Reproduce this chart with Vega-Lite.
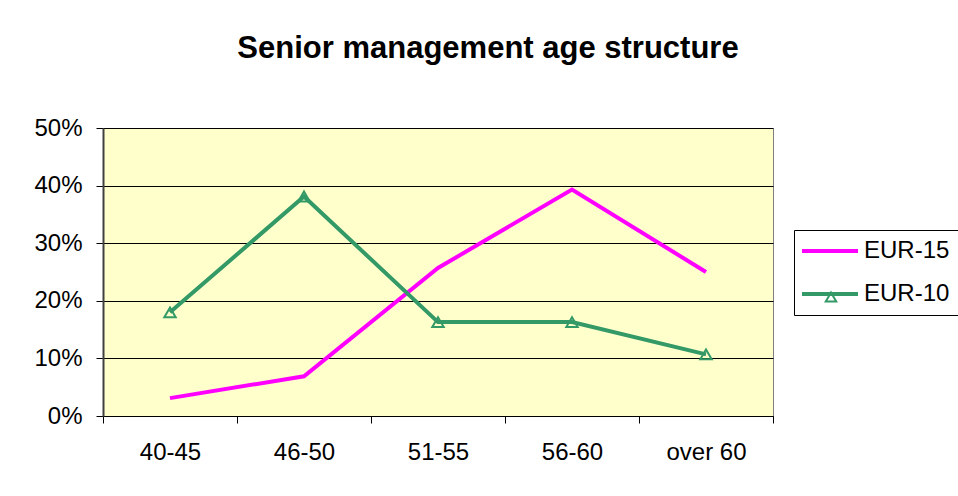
{
  "$schema": "https://vega.github.io/schema/vega-lite/v6.json",
  "width": 670,
  "height": 288,
  "autosize": {"type": "none"},
  "padding": {"left": 103, "top": 128, "right": 185, "bottom": 80},
  "background": "white",
  "title": {"text": "Senior management age structure", "fontSize": 31, "font": "Liberation Sans", "fontWeight": "bold", "color": "black", "anchor": "middle", "dx": 50, "offset": 27, "baseline": "alphabetic"},
  "datasets": {
    "d": [
      {"age": "40-45", "series": "EUR-15", "share": 0.031},
      {"age": "46-50", "series": "EUR-15", "share": 0.069},
      {"age": "51-55", "series": "EUR-15", "share": 0.257},
      {"age": "56-60", "series": "EUR-15", "share": 0.393},
      {"age": "over 60", "series": "EUR-15", "share": 0.250},
      {"age": "40-45", "series": "EUR-10", "share": 0.180},
      {"age": "46-50", "series": "EUR-10", "share": 0.381},
      {"age": "51-55", "series": "EUR-10", "share": 0.163},
      {"age": "56-60", "series": "EUR-10", "share": 0.163},
      {"age": "over 60", "series": "EUR-10", "share": 0.107}
    ]
  },
  "data": {"name": "d"},
  "encoding": {
    "x": {"field": "age", "type": "nominal", "sort": null,
      "scale": {"type": "band", "paddingInner": 0, "paddingOuter": 0},
      "axis": {"title": null, "labelAngle": 0, "tickBand": "extent", "grid": false, "domainColor": "black", "domainWidth": 1, "tickColor": "black", "tickSize": 7, "labelPadding": 17, "labelFontSize": 24, "labelFont": "Liberation Sans", "labelColor": "black"}},
    "y": {"field": "share", "type": "quantitative",
      "scale": {"domain": [0, 0.5]},
      "axis": {"title": null, "values": [0, 0.1, 0.2, 0.3, 0.4, 0.5], "format": ".0%", "grid": true, "gridColor": "black", "gridWidth": 1, "gridOpacity": 1, "domainColor": "#404040", "domainWidth": 2, "tickColor": "black", "tickSize": 7, "labelPadding": 14, "labelFontSize": 24, "labelFont": "Liberation Sans", "labelColor": "black"}}
  },
  "layer": [
    {
      "mark": {"type": "line", "strokeWidth": 4},
      "encoding": {
        "color": {"field": "series", "type": "nominal",
          "scale": {"domain": ["EUR-15", "EUR-10"], "range": ["#FF00FF", "#339966"]},
          "legend": {"title": null, "orient": "none", "legendX": 691, "legendY": 102, "strokeColor": "black", "fillColor": "white", "padding": 9, "symbolType": "M-1.3,0H4.3", "symbolSize": 400, "symbolStrokeWidth": 4, "labelFontSize": 24, "labelFont": "Liberation Sans", "labelColor": "black", "labelOffset": 37, "rowPadding": 19}}
      }
    },
    {
      "transform": [{"filter": "datum.series === 'EUR-10'"}],
      "mark": {"type": "point", "filled": false, "stroke": "#339966", "strokeWidth": 2, "size": 130, "opacity": 1},
      "encoding": {
        "shape": {"field": "series", "type": "nominal",
          "scale": {"range": ["triangle-up"]},
          "legend": {"title": null, "orient": "none", "legendX": 716, "legendY": 157, "padding": 0, "symbolStrokeColor": "#339966", "symbolFillColor": "transparent", "symbolStrokeWidth": 2, "symbolSize": 110, "labelExpr": "''", "labelFontSize": 24}}
      }
    }
  ],
  "config": {"view": {"fill": "#FFFFCC", "stroke": "#808080", "strokeWidth": 1}}
}
